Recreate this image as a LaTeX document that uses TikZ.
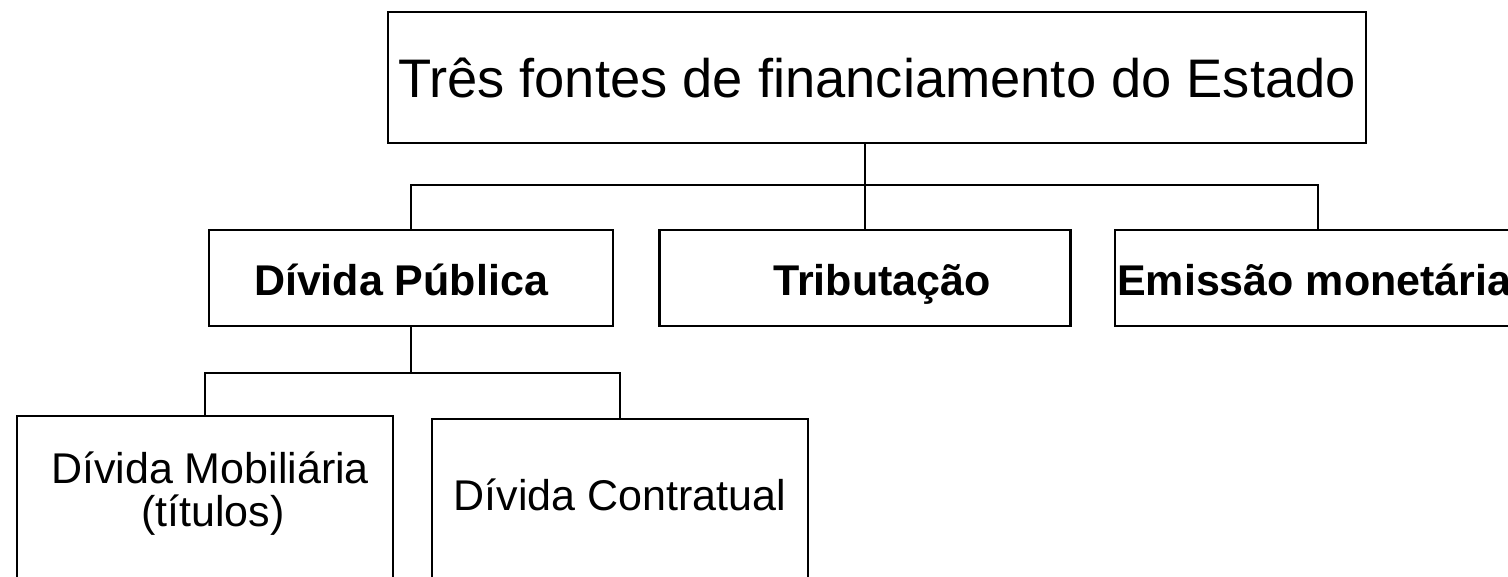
\documentclass[tikz,border=0pt]{standalone}
\usepackage{fontspec}
\setmainfont{Liberation Sans}
\begin{document}
\begin{tikzpicture}[x=1pt,y=-1pt,
  box/.style={draw=black,line width=2.6pt,inner sep=0pt},
  conn/.style={draw=black,line width=2.6pt},
  topfont/.style={font=\fontsize{54.3}{60}\selectfont,anchor=base,inner sep=0pt},
  midfont/.style={font=\fontsize{43}{48}\selectfont\bfseries,anchor=base,inner sep=0pt},
  lowfont/.style={font=\fontsize{43}{45}\selectfont,anchor=base,inner sep=0pt}]
\useasboundingbox (0,0) rectangle (1508,576);
\clip (0,0) rectangle (1508,576);
% boxes
\node[box,minimum width=978pt,minimum height=131pt] (top) at (877,77.5) {};
\node[topfont] (toptext) at (877,97) {Três fontes de financiamento do Estado};
\node[box,minimum width=404pt,minimum height=96pt] (dp) at (411,278) {};
\node[midfont] (dpt) at (401,295) {Dívida Pública};
\node[box,minimum width=411pt,minimum height=96pt] (tr) at (865,278) {};
\node[midfont] (trt) at (882,295) {Tributação};
\node[box,minimum width=406pt,minimum height=96pt] (em) at (1318,278) {};
\node[midfont,anchor=base west] (emt) at (1117,295) {Emissão monetária};
\node[box,minimum width=376pt,minimum height=170pt] (dm) at (205,501) {};
\node[lowfont] (dmt1) at (210,483) {Dívida Mobiliária};
\node[lowfont] (dmt2) at (213,526) {(títulos)};
\node[box,minimum width=376pt,minimum height=170pt] (dc) at (620,504) {};
\node[lowfont] (dct) at (620,510) {Dívida Contratual};
% connectors
\coordinate (j1) at (865,185);
\coordinate (j2) at (411,373);
\draw[conn] (top.south -| j1) -- (j1);
\draw[conn] (dp.north) |- (j1) -| (em.north);
\draw[conn] (j1) -- (tr.north);
\draw[conn] (dp.south) -- (j2);
\draw[conn] (dm.north) |- (j2) -| (dc.north);
\end{tikzpicture}
\end{document}
